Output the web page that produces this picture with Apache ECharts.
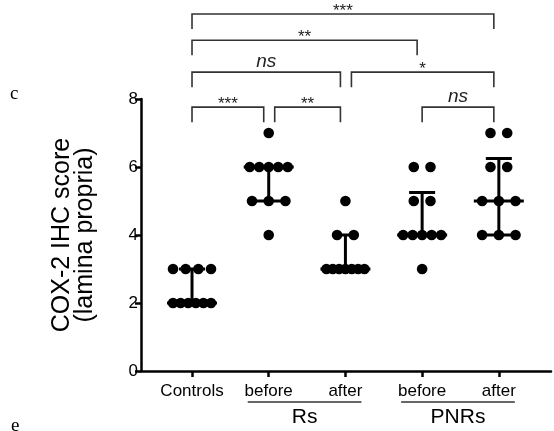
<!DOCTYPE html>
<html><head><meta charset="utf-8">
<script src="https://cdn.jsdelivr.net/npm/echarts@6/dist/echarts.min.js"></script>
<style>html,body{margin:0;padding:0;background:#fff}#c{width:554px;height:431px}</style>
</head><body><div id="c"></div>
<script>
const categories = ['Controls', 'before', 'after', 'before', 'after'];
const controls  = [2, 2, 2, 2, 2, 2, 3, 3, 3, 3];
const rsBefore  = [4, 5, 5, 5, 6, 6, 6, 6, 6, 7];
const rsAfter   = [3, 3, 3, 3, 3, 3, 3, 4, 4, 5];
const pnrBefore = [3, 4, 4, 4, 4, 4, 5, 5, 6, 6];
const pnrAfter  = [4, 4, 4, 5, 5, 5, 6, 6, 7, 7];
const medians = [2, 6, 3, 4, 5];
const q1 = [2, 5, 3, 4, 4];
const q3 = [3, 6, 4, 5.25, 6.25];
const bracketFrom  = [0, 0, 0, 2, 0, 1, 3];
const bracketTo    = [4, 3, 2, 4, 1, 2, 4];
const bracketLevel = [10.5, 9.73, 8.79, 8.79, 7.76, 7.76, 7.76];
const bracketText  = ['***', '**', 'ns', '*', '***', '**', 'ns'];
const subgroupNames = ['Rs', 'PNRs'];
const subgroupStart = [1, 3];
const subgroupEnd   = [2, 4];
const yTicks = [0, 2, 4, 6, 8];

const FONT = '"Liberation Sans", Arial, sans-serif';
const groups = [controls, rsBefore, rsAfter, pnrBefore, pnrAfter];
const catIdx = categories.map((c, i) => i);

const dotData = [];
groups.forEach((vals, g) => {
  const counts = {}; vals.forEach(v => counts[v] = (counts[v] || 0) + 1);
  const seen = {};
  vals.forEach(v => { const k = seen[v] || 0; seen[v] = k + 1; dotData.push([g, v, k, counts[v]]); });
});
const barData = catIdx.map(i => [i, q1[i], medians[i], q3[i]]);
const bracketData = bracketFrom.map((f, i) => [f, bracketTo[i], bracketLevel[i]]);
const subData = subgroupNames.map((n, i) => [subgroupStart[i], subgroupEnd[i]]);

const chart = echarts.init(document.getElementById('c'), null, {renderer: 'canvas'});
chart.setOption({
  animation: false,
  backgroundColor: '#fff',
  grid: {left: 141, right: 3, top: 99, bottom: 60},
  xAxis: {
    type: 'value', min: -0.665, max: 4.68,
    splitLine: {show: false},
    axisLine: {show: true, onZero: false, lineStyle: {color: '#000', width: 2.5}},
    axisTick: {show: true, customValues: catIdx, length: 6, lineStyle: {color: '#000', width: 2.5}},
    axisLabel: {show: true, customValues: catIdx, formatter: v => categories[Math.round(v)] || '',
      color: '#000', fontSize: 17, fontFamily: FONT, margin: 12}
  },
  yAxis: {
    type: 'value', min: 0, max: 8, interval: 2,
    splitLine: {show: false},
    axisLine: {show: true, onZero: false, lineStyle: {color: '#000', width: 2.5}},
    axisTick: {show: true, length: 6, lineStyle: {color: '#000', width: 2.5}},
    axisLabel: {color: '#000', fontSize: 17, fontFamily: FONT, margin: 3,
      formatter: v => yTicks.indexOf(v) >= 0 ? String(v) : ''},
    name: 'COX-2 IHC score\n(lamina propria)',
    nameLocation: 'middle', nameRotate: 90, nameGap: 44,
    nameTextStyle: {color: '#000', fontSize: 25, lineHeight: 23, fontFamily: FONT}
  },
  graphic: [
    {type: 'text', left: 10, top: 85, style: {text: 'c', font: '19px "Liberation Serif", serif', fill: '#000'}},
    {type: 'text', left: 11, top: 417, style: {text: 'e', font: '19px "Liberation Serif", serif', fill: '#000'}}
  ],
  series: [
    {
      type: 'custom', clip: false, data: barData, z: 2,
      renderItem: (params, api) => {
        const g = api.value(0);
        const pL = api.coord([g, api.value(1)]);
        const pM = api.coord([g, api.value(2)]);
        const pH = api.coord([g, api.value(3)]);
        const x = pM[0];
        const st = {stroke: '#000', lineWidth: 3};
        return {type: 'group', children: [
          {type: 'line', shape: {x1: x, y1: pL[1], x2: x, y2: pH[1]}, style: st},
          {type: 'line', shape: {x1: x - 25, y1: pM[1], x2: x + 25, y2: pM[1]}, style: st},
          {type: 'line', shape: {x1: x - 13, y1: pL[1], x2: x + 13, y2: pL[1]}, style: st},
          {type: 'line', shape: {x1: x - 13, y1: pH[1], x2: x + 13, y2: pH[1]}, style: st}
        ]};
      }
    },
    {
      type: 'custom', clip: false, data: dotData, z: 3,
      renderItem: (params, api) => {
        const n = api.value(3), k = api.value(2);
        const sp = n > 1 ? Math.min(16.7, 38 / (n - 1)) : 0;
        const p = api.coord([api.value(0), api.value(1)]);
        return {type: 'circle', shape: {cx: p[0] + (k - (n - 1) / 2) * sp, cy: p[1], r: 5.3}, style: {fill: '#000'}};
      }
    },
    {
      type: 'custom', clip: false, data: bracketData, z: 4,
      renderItem: (params, api) => {
        const i = params.dataIndex;
        const from = api.value(0), to = api.value(1), lvl = api.value(2);
        const p1 = api.coord([from, lvl]), p2 = api.coord([to, lvl]);
        let x1 = p1[0];
        const x2 = p2[0] - 5;
        if (bracketTo.some((t, j) => j !== i && t === from && bracketLevel[j] === lvl)) x1 += 6;
        const y = p1[1], leg = 15;
        const isNs = bracketText[i] === 'ns';
        return {type: 'group', children: [
          {type: 'polyline', shape: {points: [[x1, y + leg], [x1, y], [x2, y], [x2, y + leg]]},
            style: {stroke: '#333', lineWidth: 1.6, fill: null}},
          {type: 'text', x: (x1 + x2) / 2, y: y - (isNs ? 10 : 3),
            style: {text: bracketText[i], align: 'center', verticalAlign: 'middle',
              font: isNs ? 'italic 19px "Liberation Sans", Arial' : '17px "Liberation Sans", Arial', fill: '#222'}}
        ]};
      }
    },
    {
      type: 'custom', clip: false, data: subData, z: 4,
      renderItem: (params, api) => {
        const i = params.dataIndex;
        const a = api.coord([api.value(0), 0]), b = api.coord([api.value(1), 0]);
        const x1 = a[0] - 21, x2 = b[0] + 16, y = a[1] + 31;
        return {type: 'group', children: [
          {type: 'line', shape: {x1: x1, y1: y, x2: x2, y2: y}, style: {stroke: '#333', lineWidth: 1.6}},
          {type: 'text', x: (x1 + x2) / 2, y: y + 15,
            style: {text: subgroupNames[i], align: 'center', verticalAlign: 'middle',
              font: '21px "Liberation Sans", Arial', fill: '#000'}}
        ]};
      }
    }
  ]
});
</script>
</body></html>
